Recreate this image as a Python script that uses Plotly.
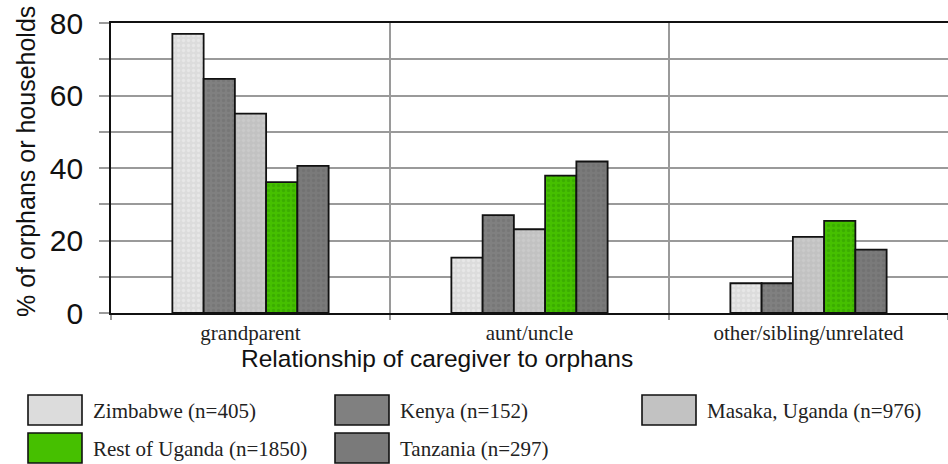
import plotly.graph_objects as go

# ── Data ──────────────────────────────────────────────────────────────────────
categories = ["grandparent", "aunt/uncle", "other/sibling/unrelated"]
series_names = [
    "Zimbabwe (n=405)",
    "Kenya (n=152)",
    "Masaka, Uganda (n=976)",
    "Rest of Uganda (n=1850)",
    "Tanzania (n=297)",
]
zimbabwe = [77, 15.3, 8.2]
kenya = [64.6, 27, 8.2]
masaka = [55, 23.1, 21]
rest_of_uganda = [36.1, 37.9, 25.4]
tanzania = [40.6, 41.8, 17.5]
series_values = [zimbabwe, kenya, masaka, rest_of_uganda, tanzania]

y_tickvals = [0, 10, 20, 30, 40, 50, 60, 70, 80]
y_ticktext = ["0", "", "20", "", "40", "", "60", "", "80"]

# ── Style ─────────────────────────────────────────────────────────────────────
fills = ["#dcdcdc", "#808080", "#c2c2c2", "#46c000", "#7a7a7a"]
dots = ["#f2f2f2", "#6e6e6e", "#d2d2d2", "#2f9a00", "#6a6a6a"]
grid_col = "#9a9a9a"
sans = "Liberation Sans, Arial, sans-serif"
serif = "Liberation Serif, Times New Roman, serif"

W, H = 948, 464
L, T, B = 111, 23, 151
plot_w, plot_h = W - L, H - T - B


def px_x(px):
    return (px - L) / plot_w


def px_y(py):
    return (H - B - py) / plot_h


fig = go.Figure()

for name, vals, fc, dc in zip(series_names, series_values, fills, dots):
    fig.add_trace(go.Bar(
        x=categories, y=vals, name=name,
        marker=dict(
            color=fc,
            line=dict(color="#111111", width=1.8),
            pattern=dict(shape=".", fgcolor=dc, size=5, solidity=0.35),
        ),
        showlegend=False,
    ))

# ── Titles (placed in pixels, as in the original) ─────────────────────────────
fig.add_annotation(
    x=px_x(26), y=px_y(162), xref="paper", yref="paper",
    xanchor="center", yanchor="middle",
    text="% of orphans or households", textangle=-90, showarrow=False,
    font=dict(family=sans, size=25, color="#111111"),
)
fig.add_annotation(
    x=px_x(437), y=px_y(358), xref="paper", yref="paper",
    xanchor="center", yanchor="middle",
    text="Relationship of caregiver to orphans", showarrow=False,
    font=dict(family=sans, size=24.5, color="#111111"),
)

# ── Legend drawn as boxes beneath the chart ───────────────────────────────────
legend_slots = [(28, 395), (335, 395), (642, 395), (28, 433), (335, 433)]
sw_w, sw_h = 54, 30
for (lx, ly), name, fc in zip(legend_slots, series_names, fills):
    fig.add_shape(
        type="rect", xref="paper", yref="paper",
        x0=px_x(lx), x1=px_x(lx + sw_w), y0=px_y(ly), y1=px_y(ly + sw_h),
        fillcolor=fc, line=dict(color="#111111", width=1.6),
    )
    fig.add_annotation(
        x=px_x(lx + sw_w + 9), y=px_y(ly + sw_h / 2 + 1), xref="paper", yref="paper",
        text=name, showarrow=False, xanchor="left", yanchor="middle",
        font=dict(family=serif, size=21, color="#222222"),
    )

fig.update_layout(
    width=W, height=H,
    barmode="group", bargap=0.44, bargroupgap=0.0,
    paper_bgcolor="white", plot_bgcolor="white",
    margin=dict(l=L, r=0, t=T, b=B),
    xaxis=dict(
        range=[-0.5, 2.5], tickson="boundaries",
        showgrid=True, gridcolor=grid_col, gridwidth=1.5,
        ticks="outside", ticklen=5, tickcolor=grid_col, tickwidth=1.5,
        showline=True, linecolor="#111111", linewidth=1.6, mirror=True,
        tickfont=dict(family=serif, size=21, color="#222222"),
    ),
    yaxis=dict(
        range=[0, 80], tickvals=y_tickvals, ticktext=y_ticktext,
        showgrid=True, gridcolor=grid_col, gridwidth=1.5,
        ticks="outside", ticklen=10, tickcolor=grid_col, tickwidth=1.5,
        showline=True, linecolor="#111111", linewidth=1.6,
        zeroline=False, ticklabelstandoff=10,
        tickfont=dict(family=sans, size=30, color="#111111"),
    ),
)

fig.write_html(
    "out.html",
    config={"displayModeBar": False},
    post_script="document.body.style.margin='0';",
)
